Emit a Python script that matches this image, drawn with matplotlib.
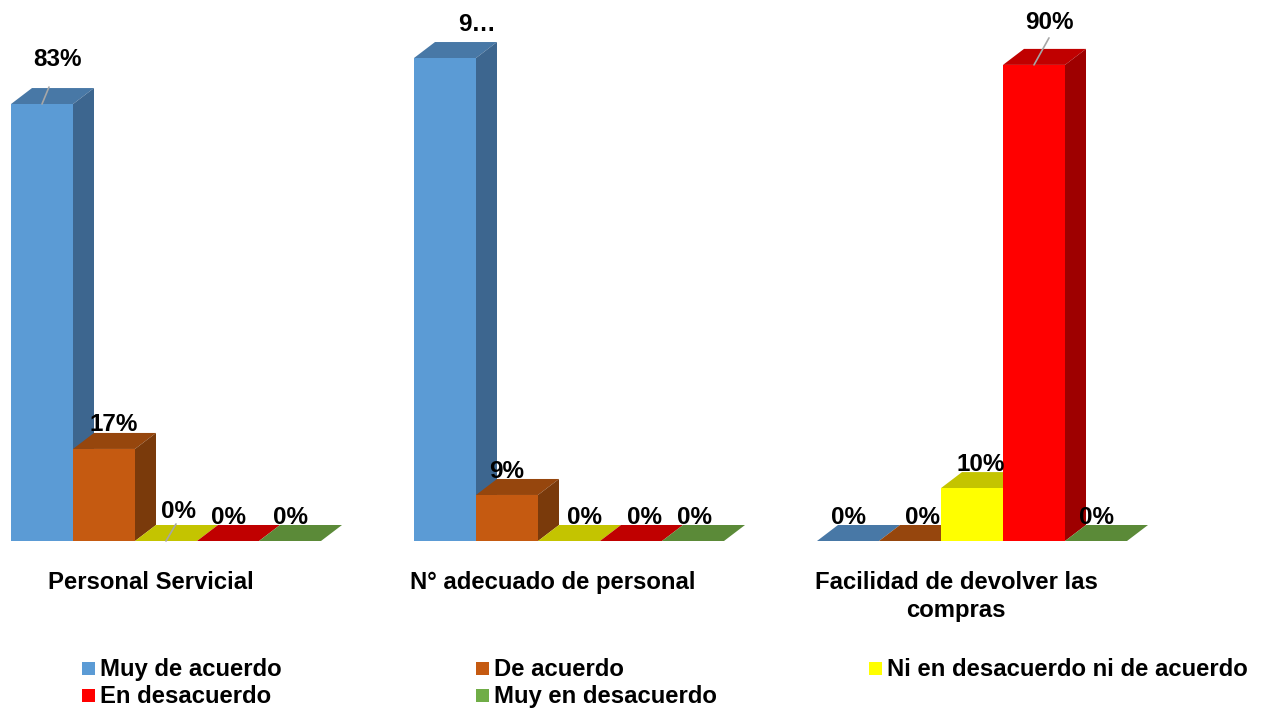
import matplotlib
matplotlib.use("Agg")
import matplotlib.pyplot as plt
from matplotlib.patches import Polygon, Rectangle

plt.rcParams['font.family'] = ['Liberation Sans', 'DejaVu Sans']

# ---- data ----
categories = ["Personal Servicial", "N° adecuado de personal", "Facilidad de devolver las\ncompras"]
series_names = ["Muy de acuerdo", "De acuerdo", "Ni en desacuerdo ni de acuerdo", "En desacuerdo", "Muy en desacuerdo"]
muy_de_acuerdo = [82.6, 91.3, 0]
de_acuerdo = [17.4, 8.7, 0]
ni_ni = [0, 0, 10]
en_desacuerdo = [0, 0, 90]
muy_en_desacuerdo = [0, 0, 0]
series_values = [muy_de_acuerdo, de_acuerdo, ni_ni, en_desacuerdo, muy_en_desacuerdo]
value_labels = [["83%", "9…", "0%"], ["17%", "9%", "0%"], ["0%", "0%", "10%"], ["0%", "0%", "90%"], ["0%", "0%", "0%"]]

# ---- style ----
W, H = 1263, 708
front = ["#5B9BD5", "#C55A11", "#FFFF00", "#FF0000", "#70AD47"]
top = ["#4878A6", "#96460D", "#C4C400", "#C00000", "#5B8A38"]
side = ["#3D668F", "#7A3A0B", "#A0A000", "#9E0000", "#4A7230"]
legend_colors = ["#5B9BD5", "#C55A11", "#FFFF00", "#FF0000", "#70AD47"]
PX_X, PX_Y = 62.0, 5.29
BASE_Y, LEFT_X = 541, 11
GROUP_STEP = 403 / 62
DX, DY = 21 / PX_X, 16 / PX_Y
label_offsets = [[(16, 45), (32, 34), (0, 23)], [(10, 24), (0, 23), (12, 23)],
                 [(12, 30), (15, 23), (9, 24)], [(0, 23), (14, 23), (15, 42)], [(0, 23), (1, 23), (0, 23)]]
leaders = {(0, 0): (7, 17), (2, 0): (10, 17), (3, 2): (15, 27)}
FS = 17.2
FS_VAL = 17.5

fig = plt.figure(figsize=(W / 100, H / 100), dpi=100)
ax = fig.add_axes([0, 0, 1, 1])
ax.set_xlim(-LEFT_X / PX_X, (W - LEFT_X) / PX_X)
ax.set_ylim(-(H - BASE_Y) / PX_Y, BASE_Y / PX_Y)
ax.axis("off")

z = 1
for g in range(len(categories)):
    for s, vals in enumerate(series_values):
        x = g * GROUP_STEP + s
        v = vals[g]
        ax.add_patch(Polygon([(x, v), (x + 1, v), (x + 1 + DX, v + DY), (x + DX, v + DY)],
                             closed=True, fc=top[s], ec="none", zorder=z))
        if v > 0:
            ax.add_patch(Polygon([(x + 1, 0), (x + 1 + DX, DY), (x + 1 + DX, v + DY), (x + 1, v)],
                                 closed=True, fc=side[s], ec="none", zorder=z))
            ax.bar(x, v, width=1, align="edge", color=front[s], edgecolor="none", zorder=z)
        z += 1

for g in range(len(categories)):
    for s, vals in enumerate(series_values):
        cx = g * GROUP_STEP + s + 0.5
        v = vals[g]
        ox, oy = label_offsets[s][g]
        if (s, g) in leaders:
            lx, ly = leaders[(s, g)]
            ax.annotate("", xy=(cx, v), xytext=(lx, ly), textcoords="offset pixels",
                        arrowprops=dict(arrowstyle="-", color="#A6A6A6", lw=1.2, shrinkA=0, shrinkB=0),
                        zorder=50)
        ax.annotate(value_labels[s][g], xy=(cx, v), xytext=(ox, oy), textcoords="offset pixels",
                    ha="center", va="center", fontsize=FS_VAL, fontweight="bold", color="black", zorder=60)


def fx(px):
    return px / W


def fy(py):
    return 1 - py / H


cat_centers = [151, 553, 956]
for c, name in zip(cat_centers, categories):
    fig.text(fx(c), fy(571), name, ha="center", va="top", fontsize=FS, fontweight="bold",
             linespacing=1.27, color="black")

legend_pos = [(82, 669.5), (476, 669.5), (869, 669.5), (82, 696.5), (476, 696.5)]
for (px, py), name, col in zip(legend_pos, series_names, legend_colors):
    fig.add_artist(Rectangle((fx(px), fy(py + 5)), 13 / W, 13 / H, transform=fig.transFigure,
                             fc=col, ec="none"))
    fig.text(fx(px + 18), fy(py), name, ha="left", va="center", fontsize=FS, fontweight="bold", color="black")

fig.savefig("out.png", dpi=100, facecolor="white")
